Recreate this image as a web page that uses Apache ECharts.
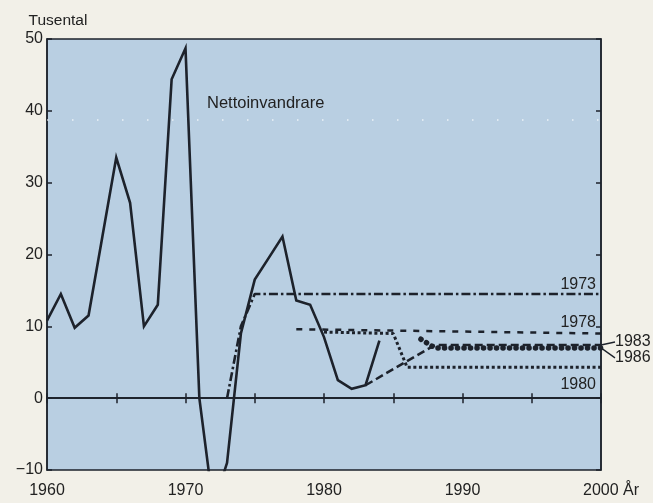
<!DOCTYPE html>
<html>
<head>
<meta charset="utf-8">
<script src="https://cdn.jsdelivr.net/npm/echarts@6/dist/echarts.min.js"></script>
<style>
  html, body { margin: 0; padding: 0; background: #f2f0e8; }
  #chart { width: 653px; height: 503px; }
</style>
</head>
<body>
<div id="chart"></div>
<script>
// Net immigration to Sweden, thousands per year
const nettoYears = [1960, 1961, 1962, 1963, 1964, 1965, 1966, 1967, 1968, 1969, 1970, 1971, 1972,
                    1973, 1974, 1975, 1976, 1977, 1978, 1979, 1980, 1981, 1982, 1983, 1984];
const nettoValues = [10.8, 14.5, 9.8, 11.5, 22.5, 33.5, 27.2, 10, 13, 44.4, 48.7, 0, -15,
                     -9, 9, 16.5, 19.5, 22.5, 13.6, 13.0, 8.5, 2.5, 1.3, 1.8, 8.0];

// Assumptions of the successive population projections
const p1973Years = [1973, 1974, 1975, 2000];
const p1973Values = [0, 10, 14.5, 14.5];
const p1978Years = [1978, 2000];
const p1978Values = [9.6, 9.0];
const p1980Years = [1980, 1985, 1986, 2000];
const p1980Values = [9.2, 9.0, 4.3, 4.3];
const p1983Years = [1983, 1988, 2000];
const p1983Values = [1.8, 7.4, 7.4];
const p1986Years = [1987, 1988, 2000];
const p1986Values = [8.2, 7.0, 7.0];

const xTicks = { min: 1960, max: 2000, step: 5 };
const yTicks = { min: -10, max: 50, step: 10 };

const INK = '#1d222b';
const TEXT = '#222222';
const FONT = "'Liberation Sans', Arial, sans-serif";

function pairs(xs, ys, endLabel) {
  return xs.map((x, i) => {
    const item = { value: [x, ys[i]] };
    if (endLabel && i === xs.length - 1) item.label = Object.assign({ show: true }, endLabel);
    return item;
  });
}

function lbl(text, extra) {
  return Object.assign({
    formatter: text, color: TEXT, fontFamily: FONT, fontSize: 16, opacity: 1
  }, extra);
}

function projSeries(name, xs, ys, dash, width, cap, endLabel, extra) {
  return Object.assign({
    name: name,
    type: 'line',
    data: pairs(xs, ys, endLabel),
    symbol: 'circle',
    symbolSize: 0,
    showSymbol: true,
    itemStyle: { color: INK },
    lineStyle: { color: INK, width: width, type: dash, cap: cap },
    label: { show: false },
    silent: true,
    z: 3
  }, extra || {});
}

const chart = echarts.init(document.getElementById('chart'), null, { renderer: 'canvas' });

chart.setOption({
  animation: false,
  backgroundColor: '#f2f0e8',
  grid: {
    left: 47, right: 52, top: 39, bottom: 33,
    show: true,
    backgroundColor: '#b9cfe2',
    borderColor: INK,
    borderWidth: 1.5
  },
  xAxis: [{
    type: 'value',
    min: xTicks.min, max: xTicks.max, interval: xTicks.step,
    position: 'bottom',
    axisLine: { show: true, lineStyle: { color: INK, width: 1.5 } },
    axisTick: { show: true, inside: true, length: 5, lineStyle: { color: INK, width: 1.5 } },
    axisLabel: {
      color: TEXT, fontFamily: FONT, fontSize: 16, margin: 13,
      formatter: v => (v === xTicks.max ? '{pad|\u00a0}' + v + ' År' : (v % 10 === 0 ? String(v) : '')),
      rich: { pad: { width: 20, fontSize: 16, fontFamily: FONT } }
    },
    splitLine: { show: false }
  }, {
    type: 'value',
    min: xTicks.min, max: xTicks.max, interval: xTicks.step,
    position: 'top',
    axisLine: { show: true, lineStyle: { color: INK, width: 1.5 } },
    axisTick: { show: true, inside: true, length: 5, lineStyle: { color: INK, width: 1.5 } },
    axisLabel: { show: false },
    splitLine: { show: false }
  }],
  yAxis: [{
    type: 'value',
    min: yTicks.min, max: yTicks.max, interval: yTicks.step,
    position: 'left',
    name: 'Tusental',
    nameLocation: 'end',
    nameGap: 10,
    nameTextStyle: { color: TEXT, fontFamily: FONT, fontSize: 15.5, align: 'center', padding: [0, 0, 0, 22] },
    axisLine: { show: true, lineStyle: { color: INK, width: 1.5 } },
    axisTick: { show: true, inside: true, length: 5, lineStyle: { color: INK, width: 1.5 } },
    axisLabel: {
      color: TEXT, fontFamily: FONT, fontSize: 16, margin: 4,
      formatter: v => String(v).replace('-', '\u2212')
    },
    splitLine: { show: false }
  }, {
    type: 'value',
    min: yTicks.min, max: yTicks.max, interval: yTicks.step,
    position: 'right',
    axisLine: { show: true, lineStyle: { color: INK, width: 1.5 } },
    axisTick: { show: true, inside: true, length: 5, lineStyle: { color: INK, width: 1.5 } },
    axisLabel: { show: false },
    splitLine: { show: false }
  }],
  graphic: [{
    type: 'text',
    left: 207, top: 95,
    silent: true,
    style: { text: 'Nettoinvandrare', fill: TEXT, font: '16.5px ' + FONT }
  }],
  series: [
    {
      name: 'Nettoinvandrare',
      type: 'line',
      data: pairs(nettoYears, nettoValues),
      showSymbol: false,
      lineStyle: { color: INK, width: 2.6, join: 'miter' },
      clip: true,
      silent: true,
      z: 4,
      markLine: {
        silent: true,
        symbol: 'none',
        label: { show: false },
        data: [
          { yAxis: 0, lineStyle: { color: INK, width: 1.6, type: 'solid' } },
          { yAxis: 38.8, lineStyle: { color: '#ffffff', width: 1.6, type: [1.5, 23.5], opacity: 0.75 } }
        ]
      }
    },
    projSeries('1973', p1973Years, p1973Values, [9, 3, 2.5, 3], 2.6, 'butt',
      lbl('1973', { position: 'top', distance: 1, align: 'right', offset: [-5, 0] })),
    projSeries('1978', p1978Years, p1978Values, [6, 7], 2.5, 'butt',
      lbl('1978', { position: 'top', distance: 3, align: 'right', offset: [-5, 0] })),
    projSeries('1980', p1980Years, p1980Values, [3, 2.6], 3, 'butt',
      lbl('1980', { position: 'bottom', distance: 9, align: 'right', offset: [-5, 0] })),
    projSeries('1983', p1983Years, p1983Values, [8, 4], 2.5, 'butt',
      lbl('1983', { position: 'right', distance: 2 }),
      { labelLayout: { dx: 12, dy: -3 }, labelLine: { show: true, lineStyle: { color: INK, width: 1.3 } } }),
    // round caps turn the near-zero dashes into large dots
    projSeries('1986', p1986Years, p1986Values, [0.1, 6.4], 5.5, 'round',
      lbl('1986', { position: 'right', distance: 2 }),
      { labelLayout: { dx: 12, dy: 10 }, labelLine: { show: true, lineStyle: { color: INK, width: 1.3 } } })
  ]
});
</script>
</body>
</html>
